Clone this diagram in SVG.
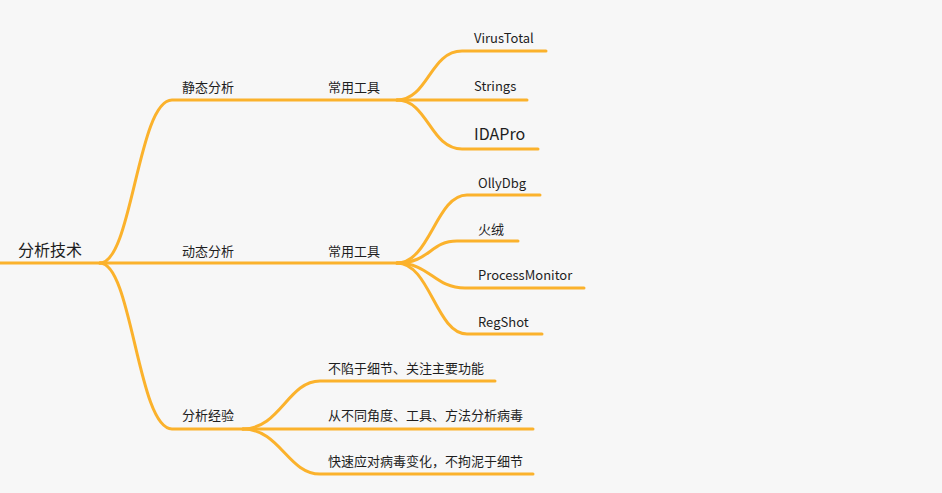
<svg xmlns="http://www.w3.org/2000/svg" width="942" height="493" viewBox="0 0 942 493">
<style>
.c{fill:none;stroke:#fbb22c;stroke-width:3;stroke-linecap:round}
text{font-family:"Noto Sans CJK SC","Noto Sans",sans-serif;fill:#1e1e1e;font-size:13px}
.r{font-size:16px}
.b{font-size:16px}
</style>
<rect width="942" height="493" fill="#f7f7f7"/>
<g id="connectors">
<path class="c" d="M0,263 L100,263"/>
<path class="c" d="M100,263 C132,263 138,100 172,100 L397,100"/>
<path class="c" d="M100,263 L397,263"/>
<path class="c" d="M100,263 C132,263 138,429 172,429 L243,429"/>
<path class="c" d="M397,100 C428,100 430,51 462,51 L546,51"/>
<path class="c" d="M397,100 L527,100"/>
<path class="c" d="M397,100 C428,100 430,149 462,149 L538,149"/>
<path class="c" d="M397,263 C430,263 436,195 467,195 L540,195"/>
<path class="c" d="M397,263 C430,263 430,241 457,241 L518,241"/>
<path class="c" d="M397,263 C430,263 434,288 465,288 L584,288"/>
<path class="c" d="M397,263 C430,263 436,334 467,334 L542,334"/>
<path class="c" d="M243,429 C280,429 288,381 320,381 L495,381"/>
<path class="c" d="M243,429 L533,429"/>
<path class="c" d="M243,429 C280,429 288,474 320,474 L533,474"/>
</g>
<g id="root"><text class="r" x="18" y="256">分析技术</text></g>
<g id="static"><text x="182" y="92">静态分析</text></g>
<g id="static-tools"><text x="328" y="92">常用工具</text></g>
<g id="virustotal"><text x="474" y="43">VirusTotal</text></g>
<g id="strings"><text x="474" y="91">Strings</text></g>
<g id="idapro"><text class="b" x="474" y="140">IDAPro</text></g>
<g id="dynamic"><text x="182" y="256">动态分析</text></g>
<g id="dynamic-tools"><text x="328" y="256">常用工具</text></g>
<g id="ollydbg"><text x="478" y="188">OllyDbg</text></g>
<g id="huorong"><text x="478" y="234">火绒</text></g>
<g id="procmon"><text x="478" y="280">ProcessMonitor</text></g>
<g id="regshot"><text x="478" y="327">RegShot</text></g>
<g id="experience"><text x="182" y="420">分析经验</text></g>
<g id="exp1"><text x="328" y="373">不陷于细节、关注主要功能</text></g>
<g id="exp2"><text x="328" y="420">从不同角度、工具、方法分析病毒</text></g>
<g id="exp3"><text x="328" y="466">快速应对病毒变化，不拘泥于细节</text></g>
</svg>
